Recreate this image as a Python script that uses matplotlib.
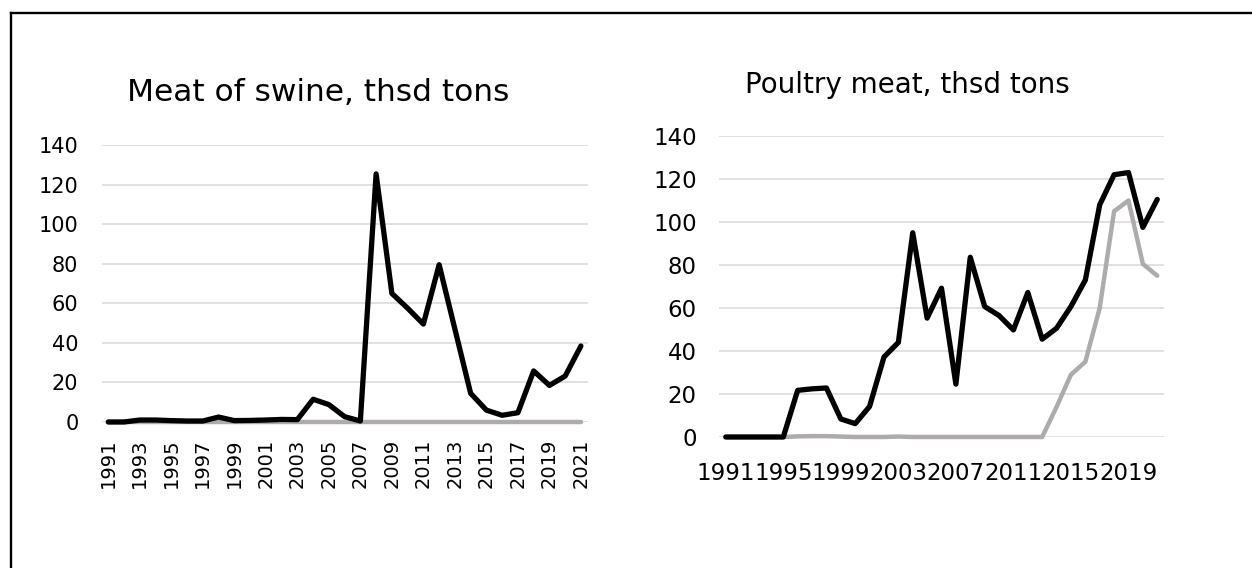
import matplotlib.pyplot as plt
from matplotlib.lines import Line2D

years = list(range(1991, 2022))

swine_black = [0, 0, 1, 1, 0.7, 0.5, 0.5, 2.5, 0.7, 0.8, 1, 1.3, 1.2, 11.5, 8.8, 2.7,
               0.5, 125.4, 65, 57.5, 49.5, 79.5, 47, 14.5, 6, 3.4, 4.7, 25.8, 18.5, 23.2, 38.4]
swine_gray = [0] * 31

poultry_black = [0, 0, 0, 0, 0, 21.7, 22.4, 22.8, 8.4, 6.2, 14.2, 37.2, 44, 95, 55.3, 69.2,
                 24.6, 83.6, 60.7, 56.5, 49.8, 67.2, 45.5, 50.6, 60.7, 73, 108, 122, 123, 97.5, 110.5]
poultry_gray = [0, 0, 0, 0, 0, 0.3, 0.4, 0.4, 0.2, 0, 0, 0, 0.2, 0, 0, 0,
                0, 0, 0, 0, 0, 0, 0, 14, 29, 35, 60, 105, 110, 80.5, 75]

W, H = 1252, 568
fig = plt.figure(figsize=(W / 100, H / 100), dpi=100)

def box(x0, x1, ytop, ybot):
    return [x0 / W, 1 - ybot / H, (x1 - x0) / W, (ybot - ytop) / H]

black = '#000000'
gray = '#adabab'
grid = '#d9d9d9'

def draw(ax, black_vals, gray_vals, xlim):
    x = list(range(len(years)))
    ax.plot(x, gray_vals, color=gray, lw=3.2, solid_joinstyle='round', solid_capstyle='round',
            zorder=3, clip_on=False)
    ax.plot(x, black_vals, color=black, lw=3.8, solid_joinstyle='round', solid_capstyle='round',
            zorder=4, clip_on=False)
    ax.set_ylim(0, 140)
    ax.set_yticks(range(0, 141, 20))
    ax.set_xlim(*xlim)
    ax.grid(axis='y', color=grid, lw=1.1, zorder=0)
    ax.set_axisbelow(True)
    for s in ax.spines.values():
        s.set_visible(False)

# left chart
ax1 = fig.add_axes(box(102, 588, 145, 422))
draw(ax1, swine_black, swine_gray, (-0.4, 30.45))
ax1.set_xticks(range(0, 31, 2))
ax1.set_xticklabels([str(y) for y in years[::2]], rotation=90)
ax1.tick_params(axis='x', length=0, pad=12, labelsize=14)
ax1.tick_params(axis='y', length=0, pad=17, labelsize=15)

# right chart
ax2 = fig.add_axes(box(719, 1164, 136, 437))
draw(ax2, poultry_black, poultry_gray, (-0.47, 30.47))
ax2.set_xticks(range(0, 31, 4))
ax2.set_xticklabels([str(y) for y in years[::4]])
ax2.tick_params(axis='x', length=0, pad=18, labelsize=16.5)
ax2.tick_params(axis='y', length=0, pad=16, labelsize=16.5)

fig.text(318 / W, 1 - 101 / H, 'Meat of swine, thsd tons', ha='center', va='baseline', fontsize=22.5)
fig.text(907 / W, 1 - 93 / H, 'Poultry meat, thsd tons', ha='center', va='baseline', fontsize=20)

# outer frame (only top and left edges fall inside the picture)
fig.add_artist(Line2D([10.5 / W, 10.5 / W], [0, 1 - 13 / H], color='black', lw=1.7,
                      transform=fig.transFigure, solid_capstyle='projecting'))
fig.add_artist(Line2D([10.5 / W, 1], [1 - 13 / H, 1 - 13 / H], color='black', lw=1.7,
                      transform=fig.transFigure, solid_capstyle='projecting'))

fig.savefig('out.png', dpi=100)
